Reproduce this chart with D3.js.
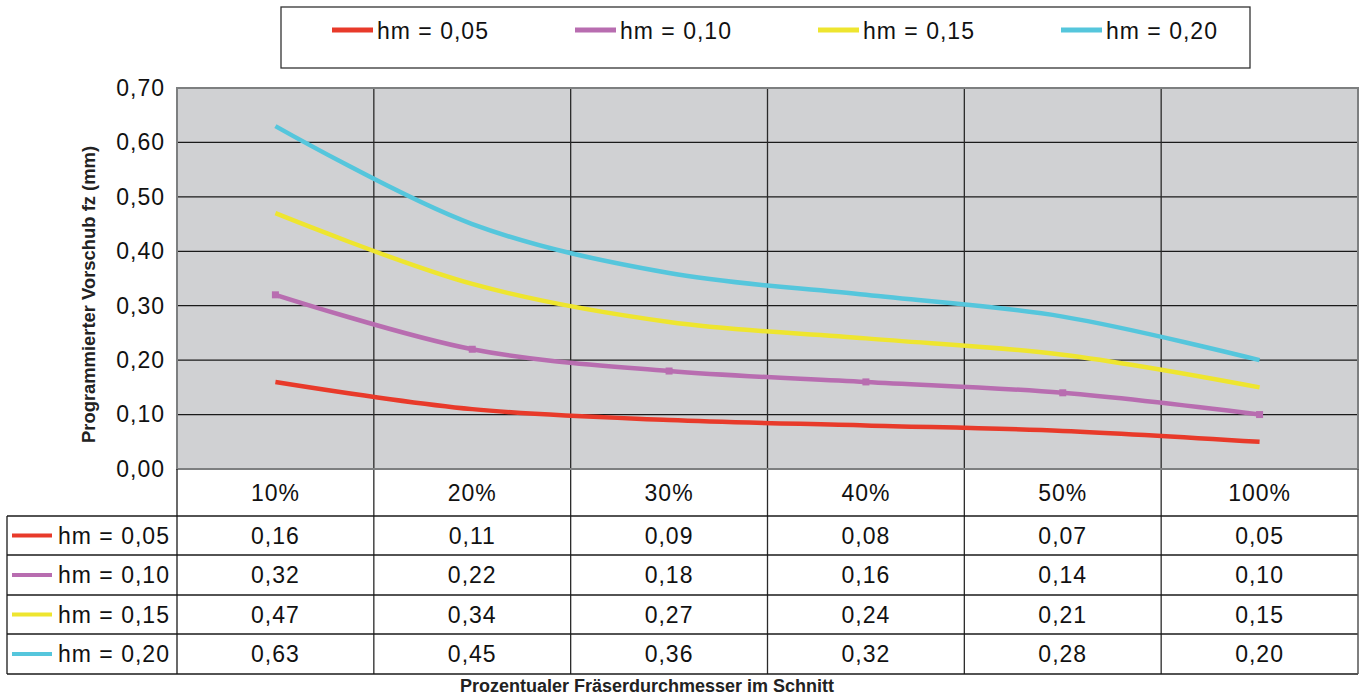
<!DOCTYPE html>
<html>
<head>
<meta charset="utf-8">
<script src="https://cdn.jsdelivr.net/npm/d3@7"></script>
<style>
  html, body { margin: 0; padding: 0; background: #fff; }
  svg { display: block; font-family: "Liberation Sans", Arial, sans-serif; }
  .lbl { font-size: 23px; letter-spacing: 1px; fill: #111; }
</style>
</head>
<body>
<svg id="chart" width="1365" height="697"></svg>
<script>
// Categories: cutter engagement in percent of diameter
const categories = ["10%", "20%", "30%", "40%", "50%", "100%"];
// Series names (mean chip thickness)
const seriesNames = ["hm = 0,05", "hm = 0,10", "hm = 0,15", "hm = 0,20"];
// Programmed feed per tooth fz (mm)
const hm005 = [0.16, 0.11, 0.09, 0.08, 0.07, 0.05];
const hm010 = [0.32, 0.22, 0.18, 0.16, 0.14, 0.10];
const hm015 = [0.47, 0.34, 0.27, 0.24, 0.21, 0.15];
const hm020 = [0.63, 0.45, 0.36, 0.32, 0.28, 0.20];
const seriesColors = ["#e83a2a", "#b86db0", "#eee52f", "#55c6dc"];
const yTicks = [0, 0.1, 0.2, 0.3, 0.4, 0.5, 0.6, 0.7];

const series = [hm005, hm010, hm015, hm020].map((values, i) => ({
  name: seriesNames[i], values, color: seriesColors[i]
}));

const fmt = v => d3.format(".2f")(v).replace(".", ",");

const svg = d3.select("#chart");
const plot = { left: 177, right: 1358, top: 88, bottom: 469 };

const x = d3.scaleBand().domain(categories).range([plot.left, plot.right]);
const y = d3.scaleLinear().domain([0, 0.7]).range([plot.bottom, plot.top]);

// Plot background
svg.append("rect")
  .attr("x", plot.left).attr("y", plot.top)
  .attr("width", plot.right - plot.left).attr("height", plot.bottom - plot.top)
  .attr("fill", "#d0d1d3");

// Horizontal grid
svg.append("g").selectAll("line").data(yTicks.slice(1, -1)).join("line")
  .attr("x1", plot.left).attr("x2", plot.right)
  .attr("y1", d => y(d)).attr("y2", d => y(d))
  .attr("stroke", "#1a1a1a").attr("stroke-width", 1.3);

// Vertical category separators (through plot and data table)
const tableBottom = 674;
svg.append("g").selectAll("line").data(categories.slice(1)).join("line")
  .attr("x1", d => x(d)).attr("x2", d => x(d))
  .attr("y1", plot.top).attr("y2", tableBottom)
  .attr("stroke", "#2a2a2a").attr("stroke-width", 1.3);

// Plot border
svg.append("rect")
  .attr("x", plot.left).attr("y", plot.top)
  .attr("width", plot.right - plot.left).attr("height", plot.bottom - plot.top)
  .attr("fill", "none").attr("stroke", "#7d7f80").attr("stroke-width", 2);

// Y axis labels
const yAxis = d3.axisLeft(y).tickValues(yTicks).tickFormat(fmt).tickSize(0).tickPadding(12);
const gy = svg.append("g").attr("transform", `translate(${plot.left},0)`).call(yAxis);
gy.select(".domain").remove();
gy.selectAll("text").attr("class", "lbl").attr("font-size", null).attr("fill", null)
  .attr("font-family", "'Liberation Sans', Arial, sans-serif");

// Lines
const line = d3.line()
  .x((d, i) => x(categories[i]) + x.bandwidth() / 2)
  .y(d => y(d))
  .curve(d3.curveCatmullRom.alpha(0.5));

svg.append("g").selectAll("path").data(series).join("path")
  .attr("d", d => line(d.values))
  .attr("fill", "none")
  .attr("stroke", d => d.color)
  .attr("stroke-width", 4.5);

// Small square markers on the hm = 0,10 series
svg.append("g").selectAll("rect").data(series[1].values).join("rect")
  .attr("x", (d, i) => x(categories[i]) + x.bandwidth() / 2 - 3.5)
  .attr("y", d => y(d) - 3.5)
  .attr("width", 7).attr("height", 7)
  .attr("fill", series[1].color);

// Data table
const rowEdges = [469, 516, 555, 595, 634, 674];
const table = svg.append("g");
// Category header row
table.selectAll("text.cat").data(categories).join("text")
  .attr("class", "lbl")
  .attr("x", d => x(d) + x.bandwidth() / 2)
  .attr("y", (rowEdges[0] + rowEdges[1]) / 2 + 8)
  .attr("text-anchor", "middle")
  .text(d => d);

// Horizontal row lines
table.selectAll("line.row").data(rowEdges.slice(1)).join("line")
  .attr("class", "row")
  .attr("x1", 7).attr("x2", plot.right)
  .attr("y1", d => d).attr("y2", d => d)
  .attr("stroke", "#1a1a1a").attr("stroke-width", 1.3);
// Outer vertical lines
table.append("line").attr("x1", 7).attr("x2", 7)
  .attr("y1", rowEdges[1]).attr("y2", tableBottom)
  .attr("stroke", "#1a1a1a").attr("stroke-width", 1.3);
table.append("line").attr("x1", plot.left).attr("x2", plot.left)
  .attr("y1", plot.bottom).attr("y2", tableBottom)
  .attr("stroke", "#1a1a1a").attr("stroke-width", 1.3);
table.append("line").attr("x1", plot.right).attr("x2", plot.right)
  .attr("y1", plot.bottom).attr("y2", tableBottom)
  .attr("stroke", "#555").attr("stroke-width", 1.5);

series.forEach((s, r) => {
  const cy = (rowEdges[r + 1] + rowEdges[r + 2]) / 2;
  table.append("line")
    .attr("x1", 12).attr("x2", 52).attr("y1", cy).attr("y2", cy)
    .attr("stroke", s.color).attr("stroke-width", 4);
  table.append("text")
    .attr("class", "lbl")
    .attr("x", 58).attr("y", cy + 8)
    .text(s.name);
  table.selectAll(null).data(s.values).join("text")
    .attr("class", "lbl")
    .attr("x", (d, i) => x(categories[i]) + x.bandwidth() / 2)
    .attr("y", cy + 8)
    .attr("text-anchor", "middle")
    .text(d => fmt(d));
});

// Legend
const legend = svg.append("g");
legend.append("rect")
  .attr("x", 281).attr("y", 7).attr("width", 969).attr("height", 61)
  .attr("fill", "#fff").attr("stroke", "#333").attr("stroke-width", 1.3);
const legendX = d3.scalePoint().domain(seriesNames).range([332, 1061]);
series.forEach(s => {
  const lx = legendX(s.name);
  legend.append("line")
    .attr("x1", lx).attr("x2", lx + 41).attr("y1", 30).attr("y2", 30)
    .attr("stroke", s.color).attr("stroke-width", 5);
  legend.append("text")
    .attr("class", "lbl")
    .attr("x", lx + 45).attr("y", 39)
    .text(s.name);
});

// Axis titles
svg.append("text")
  .attr("transform", `translate(95,${(147 + 442) / 2}) rotate(-90)`)
  .attr("text-anchor", "middle").attr("font-size", 18.4).attr("font-weight", "bold")
  .attr("fill", "#222")
  .text("Programmierter Vorschub fz (mm)");

svg.append("text")
  .attr("x", 647).attr("y", 692)
  .attr("text-anchor", "middle").attr("font-size", 18).attr("font-weight", "bold")
  .attr("fill", "#222")
  .text("Prozentualer Fräserdurchmesser im Schnitt");
</script>
</body>
</html>
